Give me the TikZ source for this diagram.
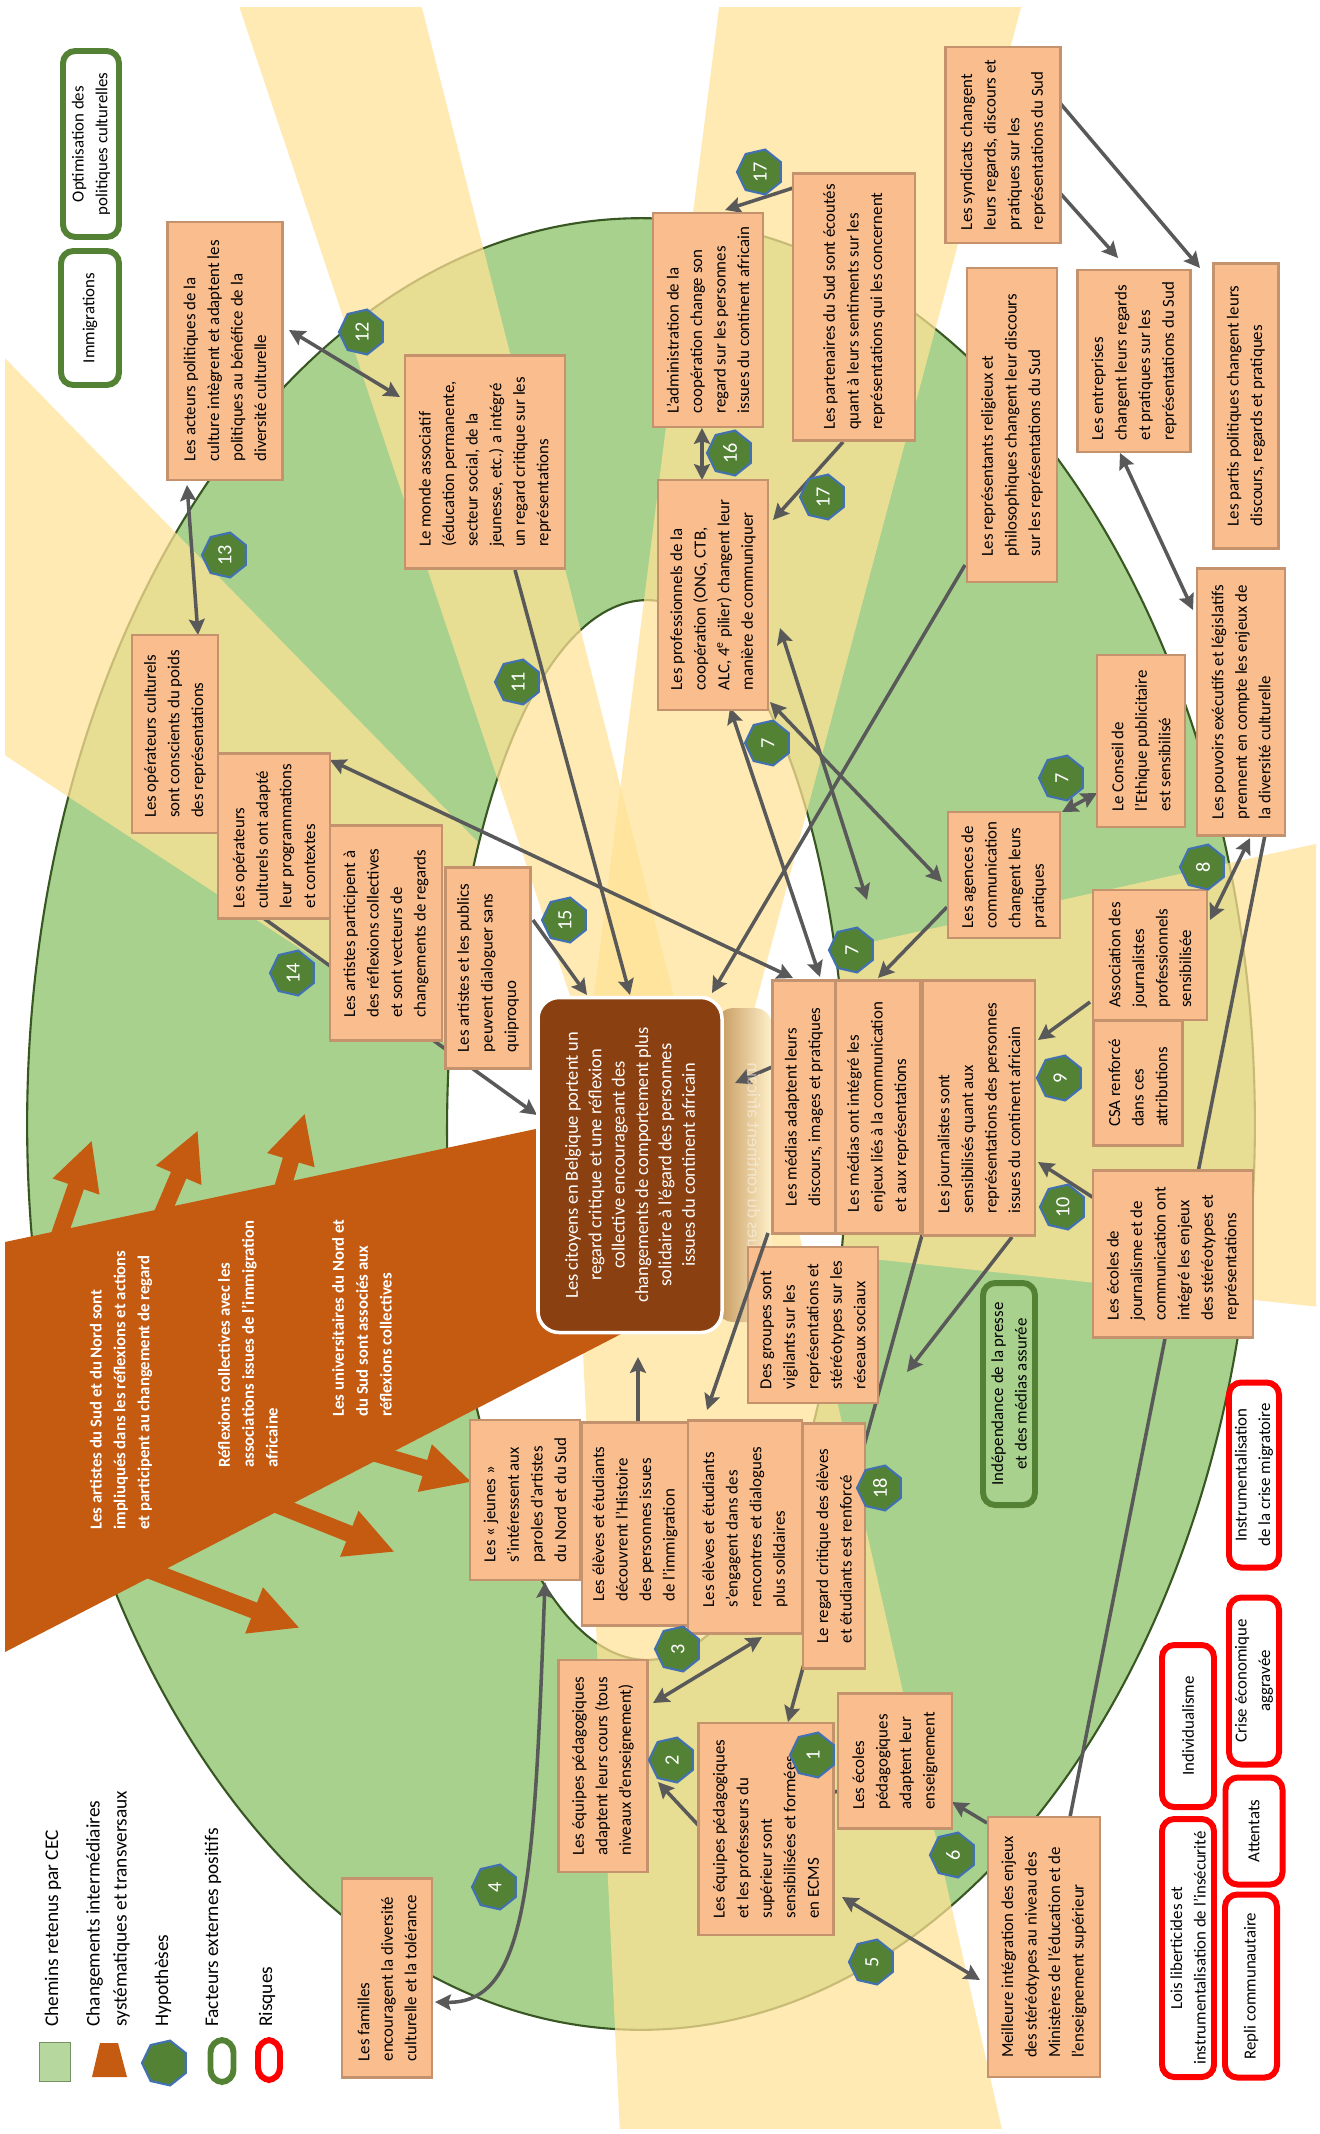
\documentclass[tikz,border=0pt]{standalone}
\usepackage{fontspec}
\setmainfont{Carlito}
\usetikzlibrary{calc,shapes.geometric,arrows.meta}
\pgfdeclarelayer{background}
\pgfdeclarelayer{links}
\pgfsetlayers{background,links,main}

\definecolor{chemin}{RGB}{169,209,142}
\definecolor{cheminline}{RGB}{56,87,35}
\definecolor{rayon}{RGB}{255,226,150}
\definecolor{bigorange}{RGB}{197,90,17}
\definecolor{boxfill}{RGB}{250,190,142}
\definecolor{boxline}{RGB}{196,146,108}
\definecolor{brownbox}{RGB}{139,64,17}
\definecolor{hypfill}{RGB}{84,130,53}
\definecolor{hypline}{RGB}{65,113,176}
\definecolor{factline}{RGB}{84,130,53}
\definecolor{connect}{RGB}{89,89,89}
\definecolor{reflet}{RGB}{196,150,90}

\begin{document}
\begin{tikzpicture}[
  x=0.02cm, y=-0.02cm,
  >={Stealth[length=9pt,width=9pt,inset=1.5pt]},
  lien/.style={draw=connect, line width=2pt},
  box/.style={draw=boxline, fill=boxfill, line width=1.3pt, rotate=90, align=left,
    inner sep=2pt, font=\fontsize{9.6}{13.4}\selectfont},
  boxsize/.style 2 args={minimum width=#1*0.02cm, minimum height=#2*0.02cm},
  citoyen/.style={fill=brownbox, draw=white, line width=2pt, rounded corners=12pt, rotate=90,
    align=center, text=white, font=\fontsize{10.5}{13.3}\selectfont},
  facteur/.style={draw=factline, line width=3.4pt, rounded corners=7pt, rotate=90,
    align=center, inner sep=2pt, font=\fontsize{9.6}{13.4}\selectfont},
  risque/.style={facteur, draw=red},
  hypo/.style={regular polygon, regular polygon sides=7, minimum size=0.92cm, inner sep=0pt,
    fill=hypfill, draw=hypline, line width=1.2pt, rotate=90, text=white,
    font=\fontsize{11.5}{12}\selectfont},
  chgtxt/.style={rotate=90, anchor=west, align=left, inner sep=0pt, text=white,
    font=\bfseries\fontsize{9.5}{13.6}\selectfont},
  chgarrow/.style={draw=bigorange, line width=9.5pt, -{Triangle[width=26pt,length=28pt]}},
  legtxt/.style={rotate=90, anchor=west, align=left, inner sep=0pt,
    font=\fontsize{11}{15.3}\selectfont},
  ray/.style={fill=rayon, opacity=0.72}
]
\useasboundingbox (0,0) rectangle (1319,2134);

\begin{pgfonlayer}{background}
  \draw[fill=chemin, draw=cheminline, line width=1.2pt] (641,1124) ellipse [x radius=12.28cm, y radius=18.12cm];
  \begin{scope}
    \clip (5,7) rectangle (1316,2128);
    \fill[ray] (0,353) -- (640,1008) -- (640,1171) -- (0,752) -- cycle;
    \fill[ray] (640,993) -- (1320,843) -- (1320,1307) -- (640,1234) -- cycle;
  \end{scope}
  \draw[fill=white, draw=cheminline, line width=1.2pt] (647,1130) ellipse [x radius=4cm, y radius=10.6cm];
  \begin{scope}
    \clip (5,7) rectangle (1316,2128);
    \fill[ray] (237,0) -- (420,0) -- (708,1130) -- (615,1130) -- cycle;
    \fill[ray] (720,0) -- (1023,0) -- (722,1130) -- (577,1130) -- cycle;
    \fill[ray] (573,1140) -- (778,1140) -- (1003,2134) -- (620,2134) -- cycle;
  \end{scope}
  \fill[bigorange] (5,1242) -- (545,1127) -- (640,1200) -- (623,1333) -- (5,1652) -- cycle;
  \draw[chgarrow] (50,1262) -- (92,1140);
  \draw[chgarrow] (142,1261) -- (198,1130);
  \draw[chgarrow] (275,1213) -- (305,1113);
  \draw[chgarrow] (330,1440) -- (472,1482);
  \draw[chgarrow] (230,1486) -- (395,1552);
  \draw[chgarrow] (120,1559) -- (300,1628);
  \shade[left color=reflet, right color=rayon!50, rounded corners=10pt] (716,1008) rectangle (772,1322);
\end{pgfonlayer}

\node[chgtxt] (chgartistes) at (121,1530) {Les artistes du Sud et du Nord sont\\impliuqués dans les réflexions et  actions\\et participent  au changement de regard};
\node[chgtxt] (chgassoc) at (248,1468) {Réflexions collectives avec les\\associations issues  de l’immigration\\africaine};
\node[chgtxt] (chgunivers) at (362,1417) {Les universitaires du  Nord et\\du Sud sont  associés aux\\réflexions collectives};

\node[xscale=-1, rotate=90, text=white, opacity=0.45, font=\fontsize{10.5}{13.3}\selectfont] (reflet) at (754,1165) {issues du  continent africain};
\node[citoyen, boxsize={335}{184}] (citoyens) at (630,1165) {Les citoyens en Belgique portent un\\regard critique et une réflexion\\collective encourageant des\\changements de comportement  plus\\solidaire à l’égard des personnes\\issues du  continent africain};

\node[box, boxsize={258}{115}] (acteurs) at (225,351) {Les acteurs politiques de la\\culture intègrent et adaptent les\\politiques au bénéfice  de la\\diversité culturelle};
\node[box, boxsize={213}{160}] (associatif) at (485,462) {Le monde  associatif\\(éducation permanente,\\secteur social, de la\\jeunesse, etc.)  a intégré\\un regard critique sur les\\représentations};
\node[box, boxsize={214}{110}] (admin) at (708,320) {L’administration de la\\coopération change son\\regard sur les personnes\\issues du  continent africain};
\node[box, boxsize={267}{122}] (partenaires) at (854,307) {Les partenaires du Sud sont écoutés\\quant à leurs sentiments sur les\\représentations qui les concernent};
\node[box, boxsize={196}{115}] (syndicats) at (1003,145) {Les syndicats changent\\leurs regards, discours et\\pratiques sur les\\représentations du Sud};
\node[box, boxsize={314}{90}] (religieux) at (1012,425) {Les représentants religieux et\\philosophiques  changent leur discours\\sur les représentations du Sud};
\node[box, boxsize={182}{113}] (entreprises) at (1134,361) {Les entreprises\\changent leurs regards\\et pratiques sur les\\représentations du Sud};
\node[box, boxsize={285}{65}] (partis) at (1246,406) {Les partis politiques changent  leurs\\discours, regards et  pratiques};
\node[box, boxsize={198}{86}] (opconsc) at (175,734) {Les opérateurs culturels\\sont conscients du poids\\des représentations};
\node[box, boxsize={165}{112}] (opadapt) at (274,836) {Les opérateurs\\culturels ont adapté\\leur programmations\\et contextes};
\node[box, boxsize={215}{112}] (artistes) at (386,933) {Les artistes participent à\\des réflexions collectives\\et sont vecteurs de\\changements de regards};
\node[box, boxsize={201}{85}] (publics) at (488,968) {Les artistes et les publics\\peuvent dialoguer sans\\quiproquo};
\node[box, boxsize={230}{110}] (pros) at (713,595) {Les professionnels  de la\\coopération  (ONG, CTB,\\ALC, 4\textsuperscript{e} pilier) changent leur\\manière de communiquer};
\node[box, boxsize={253}{63}] (mediasA) at (804,1107) {Les médias  adaptent leurs\\discours,  images et pratiques};
\node[box, boxsize={253}{85}] (mediasB) at (878,1107) {Les médias ont intégré les\\enjeux  liés à la communication\\et aux représentations};
\node[box, boxsize={255}{112}] (journalistes) at (979,1108) {Les journalistes sont\\sensibilisés quant aux\\représentations des personnes\\issues du  continent africain};
\node[box, boxsize={126}{112}] (agences) at (1004,875) {Les agences de\\communication\\changent leurs\\pratiques};
\node[box, boxsize={172}{88}] (conseil) at (1141,741) {Le Conseil  de\\l’Ethique publicitaire\\est sensibilisé};
\node[box, boxsize={267}{88}] (pouvoirs) at (1241,702) {Les pouvoirs exécutifs  et législatifs\\prennent en compte  les enjeux de\\la diversité culturelle};
\node[box, boxsize={130}{114}] (ajp) at (1150,955) {Association des\\journalistes\\professionnels\\sensibilisée};
\node[box, boxsize={125}{89}] (csa) at (1138,1083) {CSA renforcé\\dans ces\\attributions};
\node[box, boxsize={167}{160}] (ecolesjourn) at (1173,1254) {Les écoles de\\journalisme et de\\communication  ont\\intégré les enjeux\\des stéréotypes et\\représentations};
\node[box, boxsize={156}{130}] (groupes) at (813,1325) {Des groupes sont\\vigilants sur les\\représentations et\\stéréotypes sur les\\réseaux sociaux};
\node[box, boxsize={160}{110}] (jeunes) at (525,1500) {Les « jeunes »\\s’intéressent aux\\paroles d’artistes\\du Nord et du Sud};
\node[box, boxsize={203}{106}] (eleveshist) at (635,1524) {Les élèves et étudiants\\découvrent l’Histoire\\des personnes issues\\de l’immigration};
\node[box, boxsize={213}{114}] (elevesenga) at (745,1527) {Les élèves et étudiants\\s’engagent dans des\\rencontres et dialogues\\plus solidaires};
\node[box, boxsize={245}{62}] (regard) at (834,1546) {Le regard critique des élèves\\et étudiants est renforcé};
\node[box, boxsize={212}{89}] (equipescours) at (603,1766) {Les équipes pédagogiques\\adaptent leurs cours (tous\\niveaux d’enseignement)};
\node[box, boxsize={212}{135}] (equipesform) at (766,1829) {Les équipes pédagogiques\\et les professeurs du\\supérieur sont\\sensibilisées et formées\\en ECMS};
\node[box, boxsize={135}{114}] (ecolespeda) at (895,1761) {Les écoles\\pédagogiques\\adaptent leur\\enseignement};
\node[box, boxsize={260}{112}] (ministeres) at (1044,1947) {Meilleure intégration des enjeux\\des stéréotypes au niveau des\\Ministères de l’éducation et de\\l’enseignement supérieur};
\node[box, boxsize={199}{90}] (familles) at (387,1978) {Les familles\\encouragent la diversité\\culturelle et la tolérance};

\node[facteur, boxsize={222}{52}] (presse) at (1009,1394) {Indépendance  de la presse\\et des médias assurée};
\node[facteur, boxsize={134}{58}] (immigr) at (90,318) {Immigrations};
\node[facteur, boxsize={186}{56}] (optim) at (91,144) {Optimisation des\\politiques culturelles};

\node[risque, boxsize={185}{50}] (crisemig) at (1254,1475) {Instrumentalisation\\de la crise migratoire};
\node[risque, boxsize={167}{50}] (criseeco) at (1254,1681) {Crise économique\\aggravée};
\node[risque, boxsize={162}{52}] (individu) at (1188,1726) {Individualisme};
\node[risque, boxsize={107}{57}] (attentats) at (1254,1831) {Attentats};
\node[risque, boxsize={258}{52}] (lois) at (1188,1948) {Lois liberticides et\\instrumentalisation de l’insécurité};
\node[risque, boxsize={183}{52}] (repli) at (1251,1986) {Repli communautaire};

\coordinate (tip7) at (867,900);
\coordinate (tipj) at (907,1372);

\begin{pgfonlayer}{links}
  \draw[lien, <->] ($(acteurs)+(64,-21)$) -- ($(associatif)+(-85,-65)$);
  \draw[lien, <->] ($(acteurs)+(-38,134)$) -- ($(opconsc)+(23,-99)$);
  \draw[lien, <->] ($(opadapt)+(56,-76)$) -- ($(mediasA)+(-11,-129)$);
  \draw[lien, ->] ($(opadapt)+(-12,81)$) -- ($(citoyens)+(-93,-50)$);
  \draw[lien, ->] ($(associatif)+(30,108)$) -- ($(citoyens)+(0,-170)$);
  \draw[lien, ->] ($(publics)+(45,-48)$) -- ($(citoyens)+(-43,-170)$);
  \draw[lien, ->] ($(religieux)+(-47,140)$) -- ($(citoyens)+(82,-172)$);
  \draw[lien, ->] ($(partenaires)+(-61,-119)$) -- ($(admin)+(17,-110)$);
  \draw[lien, <->] ($(admin)+(-6,108)$) -- ($(pros)+(-11,-115)$);
  \draw[lien, ->] ($(partenaires)+(-11,135)$) -- ($(pros)+(60,-75)$);
  \draw[lien, <->] ($(pros)+(17,113)$) -- ($(mediasA)+(16,-130)$);
  \draw[lien, <->] ($(pros)+(67,33)$) -- (tip7);
  \draw[lien, <->] ($(pros)+(57,107)$) -- ($(agences)+(-62,7)$);
  \draw[lien, ->] ($(agences)+(-57,32)$) -- ($(mediasB)+(0,-129)$);
  \draw[lien, <->] ($(agences)+(58,-63)$) -- ($(conseil)+(-44,52)$);
  \draw[lien, <->] ($(pouvoirs)+(9,136)$) -- ($(ajp)+(60,-35)$);
  \draw[lien, ->] ($(ajp)+(-60,47)$) -- ($(journalistes)+(59,-68)$);
  \draw[lien, ->] ($(ecolesjourn)+(-76,-54)$) -- ($(journalistes)+(59,54)$);
  \draw[lien, ->] ($(journalistes)+(33,129)$) -- (tipj);
  \draw[lien, ->] ($(mediasB)+(44,128)$) -- ($(equipesform)+(22,-107)$);
  \draw[lien, ->] ($(eleveshist)+(3,-102)$) -- ($(citoyens)+(8,192)$);
  \draw[lien, ->] ($(mediasA)+(-32,-40)$) -- ($(citoyens)+(105,-82)$);
  \draw[lien, <->] ($(equipescours)+(50,-63)$) -- ($(elevesenga)+(17,110)$);
  \draw[lien, ->] ($(equipesform)+(-66,-2)$) -- ($(equipescours)+(55,16)$);
  \draw[lien, ->] ($(ecolespeda)+(-53,29)$) -- ($(equipesform)+(39,-29)$);
  \draw[lien, <->] ($(jeunes)+(20,82)$) .. controls (534,1880) and (528,2004) .. ($(familles)+(48,24)$);
  \draw[lien, <->] ($(equipesform)+(76,68)$) -- ($(ministeres)+(-64,33)$);
  \draw[lien, ->] ($(ministeres)+(-57,-124)$) -- ($(ecolespeda)+(57,41)$);
  \draw[lien] ($(ministeres)+(26,-130)$) -- ($(pouvoirs)+(24,133)$);
  \draw[lien, ->] ($(syndicats)+(57,-42)$) -- ($(partis)+(-46,-138)$);
  \draw[lien, ->] ($(syndicats)+(57,48)$) -- ($(entreprises)+(-16,-103)$);
  \draw[lien, <->] ($(entreprises)+(-14,92)$) -- ($(pouvoirs)+(-48,-92)$);
\end{pgfonlayer}
\draw[lien, ->] ($(mediasA)+(-36,126)$) -- ($(elevesenga)+(-38,-117)$);

\node[hypo] (h1) at (813,1755) {1};
\node[hypo] (h2) at (672,1760) {2};
\node[hypo] (h3) at (678,1649) {3};
\node[hypo] (h4) at (495,1887) {4};
\node[hypo] (h5) at (872,1962) {5};
\node[hypo] (h6) at (953,1855) {6};
\node[hypo] (h7a) at (768,743) {7};
\node[hypo] (h7b) at (852,950) {7};
\node[hypo] (h7c) at (1062,778) {7};
\node[hypo] (h8) at (1203,867) {8};
\node[hypo] (h9) at (1060,1078) {9};
\node[hypo] (h10) at (1063,1207) {10};
\node[hypo] (h11) at (518,682) {11};
\node[hypo] (h12) at (362,332) {12};
\node[hypo] (h13) at (225,555) {13};
\node[hypo] (h14) at (293,973) {14};
\node[hypo] (h15) at (565,920) {15};
\node[hypo] (h16) at (730,453) {16};
\node[hypo] (h17a) at (760,172) {17};
\node[hypo] (h17b) at (823,497) {17};
\node[hypo] (h18) at (880,1488) {18};

\node[draw=chemin!70!black, fill=chemin!85!white, line width=0.8pt, minimum width=0.62cm, minimum height=0.78cm] (legchemin) at (55,2062) {};
\fill[bigorange] (100,2043) -- (118,2043) -- (127,2077) -- (92,2077) -- cycle;
\node[hypo] (leghypo) at (165,2063) {};
\node[facteur, minimum width=0.84cm, minimum height=0.46cm] (legfact) at (222,2061) {};
\node[risque, minimum width=0.8cm, minimum height=0.44cm] (legrisk) at (269,2060) {};
\node[legtxt] (lchemin) at (53,2027) {Chemins retenus par CEC};
\node[legtxt] (lchgt) at (108,2027) {Changements intermédiaires\\systématiques  et transversaux};
\node[legtxt] (lhypo) at (163,2027) {Hypothèses};
\node[legtxt] (lfact) at (213,2027) {Facteurs externes  positifs};
\node[legtxt] (lrisk) at (267,2027) {Risques};
\end{tikzpicture}
\end{document}
